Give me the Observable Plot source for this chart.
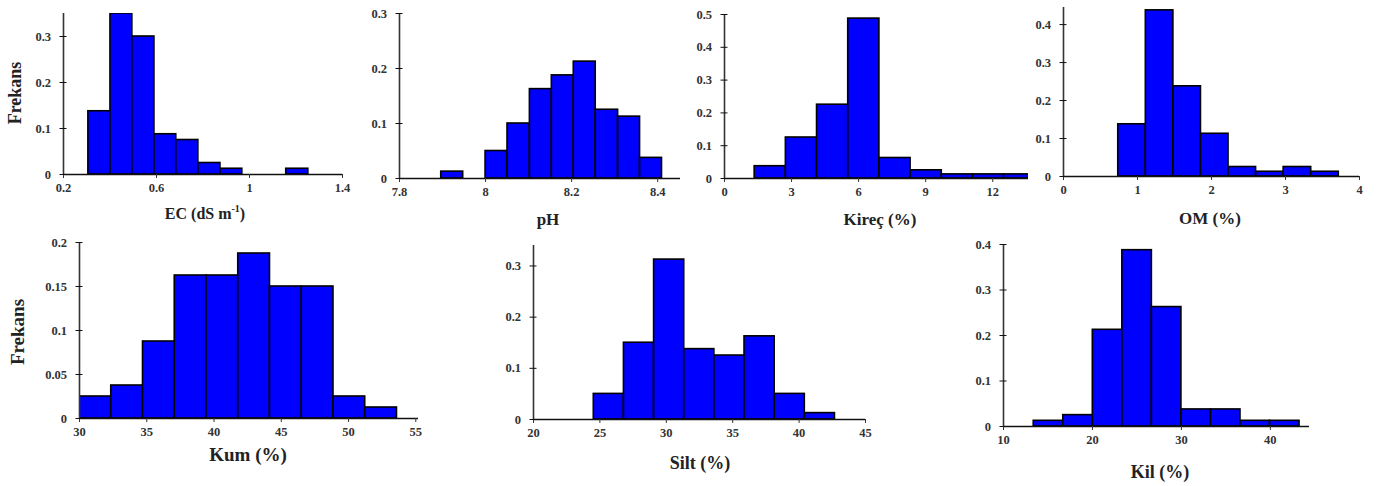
<!DOCTYPE html>
<html>
<head>
<meta charset="utf-8">
<script src="https://cdn.jsdelivr.net/npm/d3@7"></script>
<script src="https://cdn.jsdelivr.net/npm/@observablehq/plot@0.6"></script>
<style>
  html, body { margin: 0; padding: 0; background: #fff; }
  #root { position: relative; width: 1376px; height: 486px; overflow: hidden; font-family: "Liberation Serif", "DejaVu Serif", serif; }
  .panel { position: absolute; }
  .panel svg { max-width: none !important; overflow: visible; }
  .lbl { position: absolute; transform: translate(-50%, -50%); white-space: nowrap; font-weight: bold; color: #222; font-family: "Liberation Serif", serif; }
  .ylbl { position: absolute; transform: translate(-50%, -50%) rotate(-90deg); white-space: nowrap; font-weight: bold; color: #222; font-family: "Liberation Serif", serif; }
</style>
</head>
<body>
<div id="root"></div>
<script>
// ---- Data (relative frequencies) ----
const ecEdges = [0.307, 0.402, 0.496, 0.591, 0.685, 0.780, 0.875, 0.969, 1.064, 1.158, 1.253];
const ecFreq = [0.1375, 0.35, 0.30, 0.0875, 0.075, 0.025, 0.0125, 0, 0, 0.0125];
const ecXTicks = [0.2, 0.6, 1, 1.4];
const ecYTicks = [0, 0.1, 0.2, 0.3];

const phEdges = [7.897, 7.948, 8.0, 8.051, 8.103, 8.154, 8.205, 8.256, 8.308, 8.359, 8.41];
const phFreq = [0.0125, 0, 0.05, 0.1, 0.1625, 0.1875, 0.2125, 0.125, 0.1125, 0.0375];
const phXTicks = [7.8, 8, 8.2, 8.4];
const phYTicks = [0, 0.1, 0.2, 0.3];

const kirecEdges = [1.35, 2.745, 4.14, 5.535, 6.93, 8.325, 9.72, 11.115, 12.51, 13.905];
const kirecFreq = [0.0375, 0.125, 0.225, 0.4875, 0.0625, 0.025, 0.0125, 0.0125, 0.0125];
const kirecXTicks = [0, 3, 6, 9, 12];
const kirecYTicks = [0, 0.1, 0.2, 0.3, 0.4, 0.5];

const omEdges = [0.74, 1.1125, 1.485, 1.8575, 2.23, 2.6025, 2.975, 3.3475, 3.72];
const omFreq = [0.1375, 0.4375, 0.2375, 0.1125, 0.025, 0.0125, 0.025, 0.0125];
const omXTicks = [0, 1, 2, 3, 4];
const omYTicks = [0, 0.1, 0.2, 0.3, 0.4];

const kumEdges = [30, 32.36, 34.72, 37.08, 39.44, 41.8, 44.16, 46.52, 48.88, 51.24, 53.6];
const kumFreq = [0.025, 0.0375, 0.0875, 0.1625, 0.1625, 0.1875, 0.15, 0.15, 0.025, 0.0125];
const kumXTicks = [30, 35, 40, 45, 50, 55];
const kumYTicks = [0, 0.05, 0.1, 0.15, 0.2];

const siltEdges = [24.54, 26.81, 29.08, 31.35, 33.62, 35.89, 38.16, 40.43, 42.7];
const siltFreq = [0.05, 0.15, 0.3125, 0.1375, 0.125, 0.1625, 0.05, 0.0125];
const siltXTicks = [20, 25, 30, 35, 40, 45];
const siltYTicks = [0, 0.1, 0.2, 0.3];

const kilEdges = [13.4, 16.72, 20.04, 23.36, 26.68, 30.0, 33.32, 36.64, 39.96, 43.28];
const kilFreq = [0.0125, 0.025, 0.2125, 0.3875, 0.2625, 0.0375, 0.0375, 0.0125, 0.0125];
const kilXTicks = [10, 20, 30, 40];
const kilYTicks = [0, 0.1, 0.2, 0.3, 0.4];

const yTitle = "Frekans";

// ---- Layout (pixel frame of each panel) ----
const panels = [
  {edges: ecEdges, freq: ecFreq, xTicks: ecXTicks, yTicks: ecYTicks, xDomain: [0.2, 1.4], yDomain: [0, 0.35],
   box: {left: 63, right: 342, top: 13, bottom: 174}, label: 'EC (dS m<sup style="font-size:10px">-1</sup>)', lx: 205, ly: 213, lsize: 16, ylab: {x: 15, y: 93, size: 18}},
  {edges: phEdges, freq: phFreq, xTicks: phXTicks, yTicks: phYTicks, xDomain: [7.8, 8.453], yDomain: [0, 0.3],
   box: {left: 399, right: 680, top: 13, bottom: 178}, label: "pH", lx: 548, ly: 220, lsize: 17},
  {edges: kirecEdges, freq: kirecFreq, xTicks: kirecXTicks, yTicks: kirecYTicks, xDomain: [0, 13.6], yDomain: [0, 0.5],
   box: {left: 724, right: 1028, top: 14, bottom: 178}, label: "Kireç (%)", lx: 880, ly: 220, lsize: 17},
  {edges: omEdges, freq: omFreq, xTicks: omXTicks, yTicks: omYTicks, xDomain: [0, 4], yDomain: [0, 0.445],
   box: {left: 1063, right: 1359, top: 7, bottom: 176}, label: "OM (%)", lx: 1210, ly: 219, lsize: 17},
  {edges: kumEdges, freq: kumFreq, xTicks: kumXTicks, yTicks: kumYTicks, xDomain: [30, 55.2], yDomain: [0, 0.2],
   box: {left: 79, right: 418, top: 242, bottom: 418}, label: "Kum (%)", lx: 248, ly: 455, lsize: 19, ylab: {x: 18, y: 332, size: 19}},
  {edges: siltEdges, freq: siltFreq, xTicks: siltXTicks, yTicks: siltYTicks, xDomain: [20, 45], yDomain: [0, 0.34],
   box: {left: 533, right: 865, top: 245, bottom: 419}, label: "Silt (%)", lx: 700, ly: 463, lsize: 18},
  {edges: kilEdges, freq: kilFreq, xTicks: kilXTicks, yTicks: kilYTicks, xDomain: [10, 44.4], yDomain: [0, 0.4],
   box: {left: 1003, right: 1309, top: 244, bottom: 426}, label: "Kil (%)", lx: 1160, ly: 472, lsize: 18}
];

const root = document.getElementById("root");
const mL = 45, mR = 12, mT = 8, mB = 26;

for (const p of panels) {
  const bins = p.freq.map((f, i) => ({x1: p.edges[i], x2: p.edges[i + 1], f}));
  const w = p.box.right - p.box.left + mL + mR;
  const h = p.box.bottom - p.box.top + mT + mB;
  const chart = Plot.plot({
    width: w, height: h,
    marginLeft: mL, marginRight: mR, marginTop: mT, marginBottom: mB,
    style: {background: "transparent", fontFamily: "'Liberation Serif', serif", fontSize: "12.5px", fontWeight: "bold", color: "#333", overflow: "visible"},
    x: {domain: p.xDomain},
    y: {domain: p.yDomain},
    marks: [
      Plot.rectY(bins, {x1: "x1", x2: "x2", y: "f", fill: "#0000ff", stroke: "#000", strokeWidth: 1.6, clip: true}),
      Plot.ruleY([0], {stroke: "#111", strokeWidth: 1.6}),
      Plot.ruleX([p.xDomain[0]], {stroke: "#333", strokeWidth: 1.6}),
      Plot.axisX({ticks: p.xTicks, tickSize: 4, tickPadding: 5, label: null, stroke: "#333", tickFormat: d => String(d)}),
      Plot.axisY({ticks: p.yTicks, tickSize: 7, dx: 3.5, tickPadding: 9, label: null, stroke: "#111", tickFormat: d => String(d)})
    ]
  });
  const div = document.createElement("div");
  div.className = "panel";
  div.style.left = (p.box.left - mL) + "px";
  div.style.top = (p.box.top - mT) + "px";
  div.appendChild(chart);
  root.appendChild(div);

  const lab = document.createElement("div");
  lab.className = "lbl";
  lab.style.left = p.lx + "px";
  lab.style.top = p.ly + "px";
  lab.style.fontSize = p.lsize + "px";
  lab.innerHTML = p.label;
  root.appendChild(lab);

  if (p.ylab) {
    const yl = document.createElement("div");
    yl.className = "ylbl";
    yl.style.left = p.ylab.x + "px";
    yl.style.top = p.ylab.y + "px";
    yl.style.fontSize = p.ylab.size + "px";
    yl.textContent = yTitle;
    root.appendChild(yl);
  }
}
</script>
</body>
</html>
